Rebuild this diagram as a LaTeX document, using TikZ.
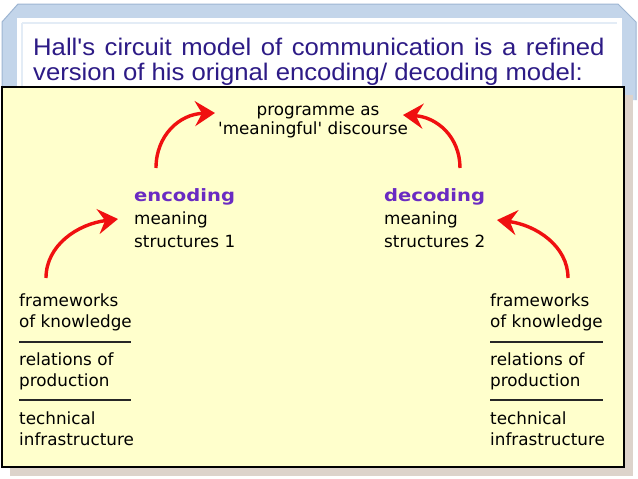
\documentclass[tikz,border=0pt]{standalone}
\usepackage{fontspec}
\setmainfont{Liberation Sans}
\newfontfamily\diafont{DejaVu Sans}
\usetikzlibrary{arrows.meta}
\definecolor{titleblue}{HTML}{2D1B86}
\definecolor{headpurple}{HTML}{6A2BC2}
\definecolor{arrowred}{HTML}{F01010}
\definecolor{boxyellow}{HTML}{FFFFCC}
\definecolor{framebl}{HTML}{C3D5EA}
\definecolor{framedk}{HTML}{9DB5D2}
\definecolor{framelt}{HTML}{E3ECF6}
\definecolor{shadow}{HTML}{DDD3CB}
\newcommand{\wideA}[1]{\scalebox{1.07}[1]{#1}}
\newcommand{\wideB}[1]{\scalebox{1.15}[1]{#1}}
\begin{document}
\begin{tikzpicture}[x=1pt,y=-1pt,
  titletext/.style={anchor=base west, inner sep=0pt, text=titleblue, font=\fontsize{24}{28}\selectfont},
  lbl/.style={anchor=base west, inner sep=0pt, text=black, font=\diafont\fontsize{16.8}{19}\selectfont},
  ctrlbl/.style={lbl, anchor=base},
  headlbl/.style={lbl, text=headpurple, font=\diafont\bfseries\fontsize{17}{21}\selectfont},
  redarrow/.style={draw=arrowred, line width=3.4pt, -{Stealth[length=20pt,width=25pt,inset=7pt]}},
  rulerline/.style={draw=black!85, line width=1.2pt}]
% canvas
\fill[white] (0,0) rectangle (638,479);
\useasboundingbox (0,0) rectangle (638,479);
% slide frame
\fill[framebl] (2,22) -- (18,4) -- (618,4) -- (636,22) -- (636,100) -- (2,100) -- cycle;
\draw[framedk, line width=1pt] (2,100) -- (2,22) -- (18,4) -- (618,4) -- (636,22) -- (636,100);
\fill[white] (17,18) rectangle (622,100);
\draw[framelt, line width=1.5pt] (22,23) -- (617,23);
\draw[framelt, line width=1.5pt] (22,23) -- (22,100);
% shadow and yellow box
\fill[shadow] (10,95) rectangle (633,476);
\fill[boxyellow] (2,87) rectangle (624,467);
\draw[black, line width=1.3pt] (2,87) rectangle (624,467);
% title
\node[titletext] (t1) at (33,55) {\wideA{\makebox[534pt][s]{Hall\textquotesingle s circuit model of communication is a refined}}};
\node[titletext] (t2) at (33,80) {\wideA{version of his orignal encoding/ decoding model:}};
% top text
\node[ctrlbl] (p1) at (318,115) {programme as};
\node[ctrlbl] (p2) at (313,134) {'meaningful' discourse};
% encoding / decoding
\node[headlbl] (enc) at (134,201) {\wideB{encoding}};
\node[lbl] (enc1) at (134,224) {meaning};
\node[lbl] (enc2) at (134,247) {structures 1};
\node[headlbl] (dec) at (384,201) {\wideB{decoding}};
\node[lbl] (dec1) at (384,224) {meaning};
\node[lbl] (dec2) at (384,247) {structures 2};
% left stack
\node[lbl] (lf1) at (19,306) {frameworks};
\node[lbl] (lf2) at (19,327) {of knowledge};
\draw[rulerline] (19,342) -- (131,342);
\node[lbl] (lr1) at (19,365) {relations of};
\node[lbl] (lr2) at (19,386) {production};
\draw[rulerline] (19,400) -- (131,400);
\node[lbl] (lt1) at (19,424) {technical};
\node[lbl] (lt2) at (19,445) {infrastructure};
% right stack
\node[lbl] (rf1) at (490,306) {frameworks};
\node[lbl] (rf2) at (490,327) {of knowledge};
\draw[rulerline] (490,342) -- (603,342);
\node[lbl] (rr1) at (490,365) {relations of};
\node[lbl] (rr2) at (490,386) {production};
\draw[rulerline] (490,400) -- (603,400);
\node[lbl] (rt1) at (490,424) {technical};
\node[lbl] (rt2) at (490,445) {infrastructure};
% arrow end points
\coordinate (a1s) at (156,168);
\coordinate (a1e) at (215,113);
\coordinate (a2s) at (460,168);
\coordinate (a2e) at (403,115);
\coordinate (a3s) at (46,278);
\coordinate (a3e) at (118,219);
\coordinate (a4s) at (568,278);
\coordinate (a4e) at (497,220);
\draw[redarrow] (a1s) .. controls (156,135) and (180,114) .. (a1e);
\draw[redarrow] (a2s) .. controls (460,137) and (437,117) .. (a2e);
\draw[redarrow] (a3s) .. controls (46,245) and (78,224) .. (a3e);
\draw[redarrow] (a4s) .. controls (568,246) and (536,225) .. (a4e);
\end{tikzpicture}
\end{document}
